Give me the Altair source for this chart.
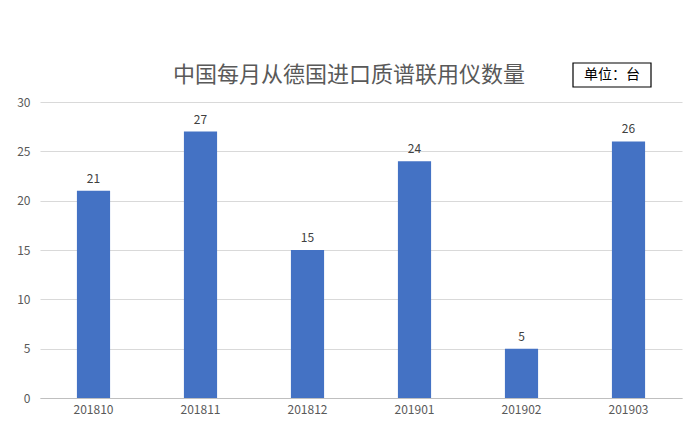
import altair as alt
import pandas as pd

months = ["201810", "201811", "201812", "201901", "201902", "201903"]
counts = [21, 27, 15, 24, 5, 26]
title_text = "中国每月从德国进口质谱联用仪数量"
unit_text = "单位：台"

df = pd.DataFrame({"month": months, "count": counts})
FONT = "Noto Sans CJK SC"

base = alt.Chart(df).encode(
    x=alt.X("month:N", sort=months, title=None,
            scale=alt.Scale(paddingInner=0.69, paddingOuter=0.345),
            axis=alt.Axis(labelAngle=0, ticks=False, domainColor="#bfbfbf",
                          labelColor="#595959", labelFontSize=12, labelFont=FONT,
                          labelPadding=6)),
    y=alt.Y("count:Q", title=None,
            scale=alt.Scale(domain=[0, 30]),
            axis=alt.Axis(values=[0, 5, 10, 15, 20, 25, 30], ticks=False, domain=False,
                          gridColor="#d9d9d9", labelColor="#595959", labelFontSize=12,
                          labelFont=FONT, labelPadding=10)),
)

bars = base.mark_bar(color="#4472C4")
labels = base.mark_text(dy=-12, fontSize=12, color="#404040", font=FONT).encode(
    text="count:Q")

title_df = pd.DataFrame({"t": [title_text]})
title_mark = alt.Chart(title_df).mark_text(
    fontSize=22, color="#595959", font=FONT, baseline="middle").encode(
    x=alt.value(309), y=alt.value(-27), text="t:N")

unit_df = pd.DataFrame({"t": [unit_text]})
box = alt.Chart(unit_df).mark_rect(
    fill="white", stroke="black", strokeWidth=1.2).encode(
    x=alt.value(533), x2=alt.value(611), y=alt.value(-39), y2=alt.value(-15))
box_text = alt.Chart(unit_df).mark_text(
    fontSize=14, color="black", font=FONT, baseline="middle").encode(
    x=alt.value(572), y=alt.value(-27), text="t:N")

chart = alt.layer(bars, labels, title_mark, box, box_text).properties(
    width=642, height=296,
    autosize=alt.AutoSizeParams(type="none"),
    padding={"left": 32, "top": 94, "right": 7, "bottom": 27},
).configure_view(stroke=None)

chart.save("out.html", embed_options={"renderer": "svg", "actions": False})
